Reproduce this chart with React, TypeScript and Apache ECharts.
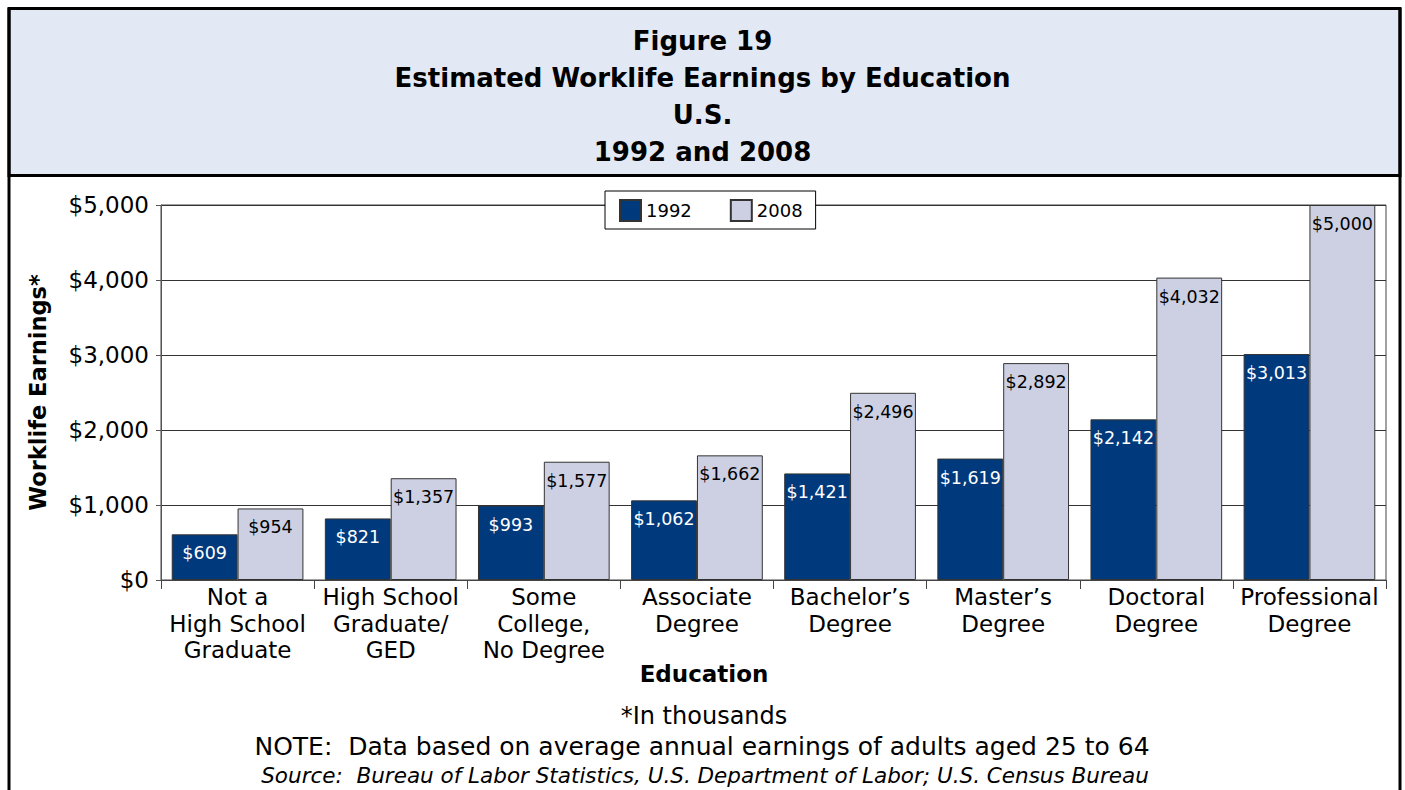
import React, { useEffect, useRef } from "react";
import * as echarts from "echarts";

const categories = [
  "Not a\nHigh School\nGraduate",
  "High School\nGraduate/\nGED",
  "Some\nCollege,\nNo Degree",
  "Associate\nDegree",
  "Bachelor\u2019s\nDegree",
  "Master\u2019s\nDegree",
  "Doctoral\nDegree",
  "Professional\nDegree",
];
const values1992 = [609, 821, 993, 1062, 1421, 1619, 2142, 3013];
const values2008 = [954, 1357, 1577, 1662, 2496, 2892, 4032, 5000];
const titleLines = [
  "Figure 19",
  "Estimated Worklife Earnings by Education",
  "U.S.",
  "1992 and 2008",
];
const noteLines = [
  "*In thousands",
  "NOTE:  Data based on average annual earnings of adults aged 25 to 64",
];
const sourceLine =
  "Source:  Bureau of Labor Statistics, U.S. Department of Labor; U.S. Census Bureau";

const FONT = '"DejaVu Sans", "Liberation Sans", Arial, sans-serif';
const fmt = (v: number) => "$" + Number(v).toLocaleString("en-US");

export default function App() {
  const ref = useRef<HTMLDivElement>(null);
  useEffect(() => {
    if (!ref.current) return;
    const chart = echarts.init(ref.current, undefined, { renderer: "svg" });
    chart.setOption({
      animation: false,
      backgroundColor: "#ffffff",
      textStyle: { fontFamily: FONT, color: "#000" },
      title: {
        text: titleLines.join("\n"),
        left: "center",
        top: 17,
        textStyle: {
          fontFamily: FONT,
          fontSize: 26,
          fontWeight: "bold",
          color: "#000",
          lineHeight: 37,
        },
      },
      legend: {
        left: 605,
        top: 191,
        padding: [8, 13, 7, 14],
        itemWidth: 21,
        itemHeight: 21,
        itemGap: 38,
        icon: "rect",
        backgroundColor: "#ffffff",
        borderColor: "#000",
        borderWidth: 1,
        textStyle: { fontFamily: FONT, fontSize: 18, color: "#000" },
        data: ["1992", "2008"],
      },
      grid: {
        left: 161,
        right: 19,
        top: 205,
        bottom: 210,
        show: true,
        borderColor: "#444",
        borderWidth: 1,
        backgroundColor: "transparent",
      },
      xAxis: {
        type: "category",
        data: categories,
        axisLine: { lineStyle: { color: "#444", width: 1 } },
        axisTick: { show: true, length: 9, interval: 0, lineStyle: { color: "#444" } },
        axisLabel: {
          interval: 0,
          margin: 4,
          fontFamily: FONT,
          fontSize: 23,
          lineHeight: 26.5,
          color: "#000",
        },
      },
      yAxis: {
        type: "value",
        min: 0,
        max: 5000,
        interval: 1000,
        name: "Worklife Earnings*",
        nameLocation: "middle",
        nameGap: 112,
        nameRotate: 90,
        nameTextStyle: {
          fontFamily: FONT,
          fontSize: 22.5,
          fontWeight: "bold",
          color: "#000",
        },
        axisLine: { show: true, lineStyle: { color: "#555" } },
        axisTick: { show: true, length: 5, lineStyle: { color: "#555" } },
        axisLabel: {
          margin: 12,
          formatter: (v: number) => fmt(v),
          fontFamily: FONT,
          fontSize: 23,
          color: "#000",
        },
        splitLine: { show: true, lineStyle: { color: "#333", width: 1 } },
      },
      series: [
        {
          name: "1992",
          type: "bar",
          data: values1992,
          barGap: "0%",
          barCategoryGap: "14%",
          itemStyle: { color: "#003A7D", borderColor: "#333", borderWidth: 1 },
          label: {
            show: true,
            position: "insideTop",
            distance: 10,
            formatter: (p: any) => fmt(p.value),
            fontFamily: FONT,
            fontSize: 17.5,
            color: "#ffffff",
          },
        },
        {
          name: "2008",
          type: "bar",
          data: values2008,
          barGap: "0%",
          barCategoryGap: "14%",
          itemStyle: { color: "#CDD0E3", borderColor: "#333", borderWidth: 1 },
          label: {
            show: true,
            position: "insideTop",
            distance: 10,
            formatter: (p: any) => fmt(p.value),
            fontFamily: FONT,
            fontSize: 17.5,
            color: "#000",
          },
        },
      ],
      graphic: [
        {
          type: "rect",
          z: -10,
          silent: true,
          shape: { x: 9, y: 8.5, width: 1391, height: 167 },
          style: { fill: "#E2E9F5", stroke: "#000", lineWidth: 3 },
        },
        {
          type: "line",
          silent: true,
          shape: { x1: 9, y1: 8, x2: 9, y2: 800 },
          style: { stroke: "#000", lineWidth: 3 },
        },
        {
          type: "line",
          silent: true,
          shape: { x1: 1400, y1: 8, x2: 1400, y2: 800 },
          style: { stroke: "#000", lineWidth: 3 },
        },
        {
          type: "text",
          x: 704,
          y: 674,
          style: {
            text: "Education",
            font: `bold 23px ${FONT}`,
            fill: "#000",
            textAlign: "center",
            textVerticalAlign: "middle",
          },
        },
        {
          type: "text",
          x: 704,
          y: 716,
          style: {
            text: noteLines[0],
            font: `24px ${FONT}`,
            fill: "#000",
            textAlign: "center",
            textVerticalAlign: "middle",
          },
        },
        {
          type: "text",
          x: 702,
          y: 746,
          style: {
            text: noteLines[1],
            font: `25px ${FONT}`,
            fill: "#000",
            textAlign: "center",
            textVerticalAlign: "middle",
          },
        },
        {
          type: "text",
          x: 705,
          y: 775,
          style: {
            text: sourceLine,
            font: `italic 21.5px ${FONT}`,
            fill: "#000",
            textAlign: "center",
            textVerticalAlign: "middle",
          },
        },
      ],
    });
    return () => chart.dispose();
  }, []);
  return (
    <div
      ref={ref}
      style={{ position: "absolute", left: 0, top: 0, width: 1405, height: 790 }}
    />
  );
}
